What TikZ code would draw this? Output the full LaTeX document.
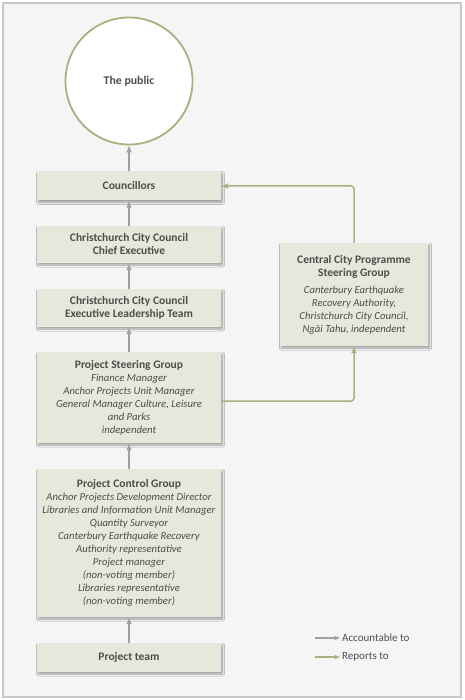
\documentclass[tikz,border=0pt]{standalone}
\usepackage{fontspec}
\setmainfont{Carlito}
\usetikzlibrary{shadows.blur,arrows.meta}
\definecolor{boxfill}{HTML}{E7E8DB}
\definecolor{txt}{HTML}{4D4D4D}
\definecolor{grn}{HTML}{A9B27F}
\definecolor{gry}{HTML}{9FA0A6}
\definecolor{bg}{HTML}{F5F5F5}
\definecolor{frame}{HTML}{C9C9C9}
\newcommand{\ttl}[1]{{\fontsize{11.5}{13}\selectfont\bfseries #1}}
\begin{document}
\begin{tikzpicture}[x=1pt,y=-1pt,
  box/.style={fill=boxfill, draw=none,
    blur shadow={shadow blur steps=6, shadow xshift=1.5pt, shadow yshift=-2pt, shadow opacity=35, shadow blur radius=2pt},
    inner sep=0pt, align=center, text=txt, font=\fontsize{10.7}{13}\selectfont},
  garrow/.style={draw=gry, line width=1.5pt, -{Latex[length=7pt,width=6pt]}},
  grnarrow/.style={draw=grn, line width=1.5pt, rounded corners=3pt, -{Latex[length=7pt,width=6pt]}},
  legtext/.style={anchor=west, inner sep=0pt, text=txt, font=\fontsize{11}{13}\selectfont}]
\fill[white] (0,0) rectangle (464,700);
\useasboundingbox (0,0) rectangle (464,700);
\draw[draw=frame, line width=1.5pt, fill=bg] (3,3) rectangle (461,697);

\node[circle, draw=grn, line width=1.8pt, fill=white, minimum size=127pt, inner sep=0pt,
  text=txt, font=\fontsize{11.8}{13}\selectfont\bfseries] (pub) at (129,81) {The public};

\node[box, minimum width=184pt, minimum height=29pt] (cou) at (129,186) {\ttl{Councillors}};
\node[box, minimum width=184pt, minimum height=37pt] (ce) at (129,244.5)
  {\ttl{Christchurch City Council}\\\ttl{Chief Executive}};
\node[box, minimum width=184pt, minimum height=38pt] (elt) at (129,308)
  {\ttl{Christchurch City Council}\\\ttl{Executive Leadership Team}};
\node[box, minimum width=184pt, minimum height=91pt] (psg) at (129,397.5)
  {\ttl{Project Steering Group}\\\textit{Finance Manager}\\\textit{Anchor Projects Unit Manager}\\
   \textit{General Manager Culture, Leisure}\\\textit{and Parks}\\\textit{independent}};
\node[box, minimum width=184pt, minimum height=148pt] (pcg) at (129,543)
  {\ttl{Project Control Group}\\\textit{Anchor Projects Development Director}\\
   \textit{Libraries and Information Unit Manager}\\\textit{Quantity Surveyor}\\
   \textit{Canterbury Earthquake Recovery}\\\textit{Authority representative}\\
   \textit{Project manager}\\\textit{(non-voting member)}\\\textit{Libraries representative}\\
   \textit{(non-voting member)}};
\node[box, minimum width=184pt, minimum height=29pt] (pt) at (129,657.5) {\ttl{Project team}};

\node[box, minimum width=148pt, minimum height=103pt] (ccp) at (354,294.5)
  {\ttl{Central City Programme}\\\ttl{Steering Group}\\[4pt]
   \textit{Canterbury Earthquake}\\\textit{Recovery Authority,}\\
   \textit{Christchurch City Council,}\\\textit{Ngāi Tahu, independent}};

\draw[garrow] (cou.north) -- (pub.south);
\draw[garrow] (ce.north) -- (cou.south);
\draw[garrow] (elt.north) -- (ce.south);
\draw[garrow] (psg.north) -- (elt.south);
\draw[garrow] (pcg.north) -- (psg.south);
\draw[garrow] (pt.north) -- (pcg.south);

\draw[grnarrow] (ccp.north) |- (cou.east);
\draw[grnarrow] ([yshift=-3.5pt]psg.east) -| (ccp.south);

\coordinate (la) at (315,638);
\coordinate (lb) at (315,657);
\node[legtext] (lat) at (342,638) {Accountable to};
\node[legtext] (lbt) at (342,657) {Reports to};
\draw[draw=gry, line width=1.2pt, -{Latex[length=6pt,width=5pt]}] (la) -- ([xshift=-1.5pt]lat.west);
\draw[draw=grn, line width=1.2pt, -{Latex[length=6pt,width=5pt]}] (lb) -- ([xshift=-1.5pt]lbt.west);
\end{tikzpicture}
\end{document}
